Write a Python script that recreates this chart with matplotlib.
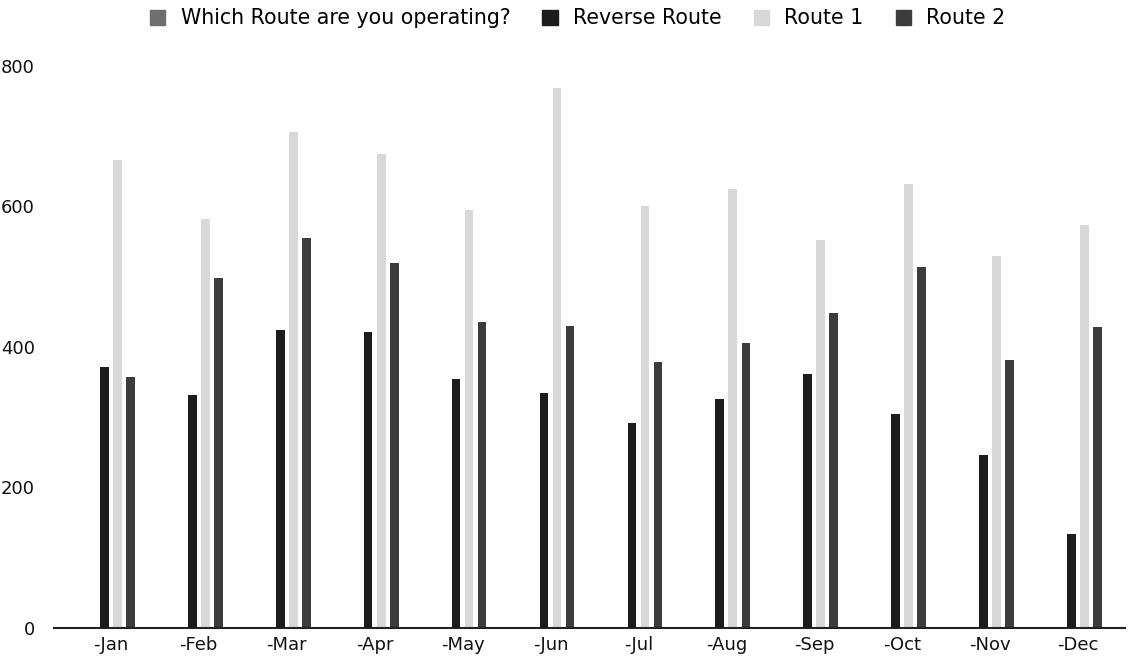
import numpy as np
import matplotlib.pyplot as plt
from matplotlib.patches import Patch

plt.rcParams['font.family'] = ['DejaVu Sans']

# Data
months = ['-Jan', '-Feb', '-Mar', '-Apr', '-May', '-Jun',
          '-Jul', '-Aug', '-Sep', '-Oct', '-Nov', '-Dec']
which_route = [0, 0, 0, 0, 0, 0, 0, 0, 0, 0, 0, 0]
reverse_route = [371, 331, 424, 421, 354, 334, 292, 326, 362, 305, 246, 134]
route_1 = [666, 582, 706, 675, 595, 768, 600, 625, 552, 632, 530, 574]
route_2 = [357, 498, 555, 520, 435, 430, 379, 406, 448, 514, 381, 428]

series = [('Which Route are you operating?', which_route, '#6e6e6e'),
          ('Reverse Route', reverse_route, '#1c1c1c'),
          ('Route 1', route_1, '#d8d8d8'),
          ('Route 2', route_2, '#3c3c3c')]

fig = plt.figure(figsize=(11.35, 6.71), dpi=100)
ax = fig.add_axes([0.048, 0.064, 0.943, 0.838])

x = np.arange(len(months))
step = 0.148; w = 0.10
for i, (name, vals, col) in enumerate(series):
    ax.bar(x + (i - 1.5)*step, vals, width=w, color=col, label=name, zorder=2)

ax.set_xlim(-0.64, 11.53)
ax.set_ylim(0, 800)
ax.set_yticks([0, 200, 400, 600, 800])
ax.set_xticks(x)
ax.set_xticklabels(months)
ax.tick_params(axis='both', length=0, labelsize=13, colors='#111111')
ax.tick_params(axis='y', pad=14)
ax.tick_params(axis='x', pad=6)
for s in ['top', 'right', 'left']:
    ax.spines[s].set_visible(False)
ax.spines['bottom'].set_color('#222222')
ax.spines['bottom'].set_linewidth(1.5)

handles = [Patch(color=c, label=n) for n, _, c in series]
fig.legend(handles=handles, loc='upper center', bbox_to_anchor=(0.509, 1.015),
           ncol=4, frameon=False, fontsize=14.8, handlelength=0.75,
           handleheight=0.75, columnspacing=1.55, handletextpad=0.75)

fig.savefig('out.png', dpi=100)
